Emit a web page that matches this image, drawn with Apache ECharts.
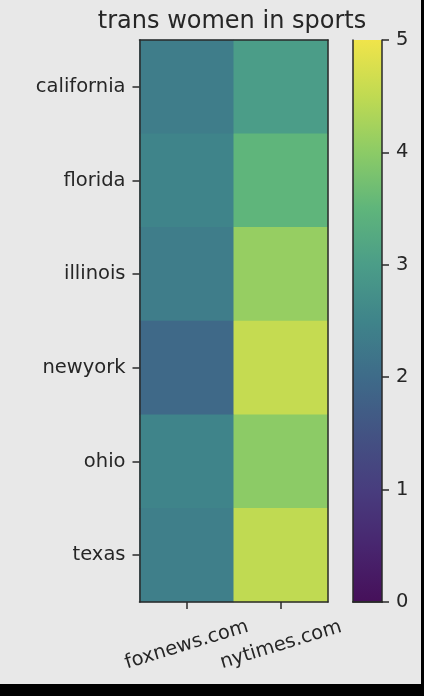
<!DOCTYPE html>
<html>
<head>
<meta charset="utf-8">
<script src="https://cdn.jsdelivr.net/npm/echarts@6/dist/echarts.min.js"></script>
<style>
  html, body { margin: 0; padding: 0; background: #000; }
  #chart { width: 421px; height: 684px; background: #e8e8e8; }
</style>
</head>
<body>
<div id="chart"></div>
<script>
const titleText = 'trans women in sports';
const sites = ['foxnews.com', 'nytimes.com'];
const states = ['california', 'florida', 'illinois', 'newyork', 'ohio', 'texas'];
const foxValues = [2.35, 2.5, 2.35, 1.95, 2.5, 2.4];
const nytValues = [3.0, 3.5, 4.1, 4.55, 4.0, 4.5];
const colorTicks = [0, 1, 2, 3, 4, 5];
// viridis as it appears in the (slightly washed-out) reference picture
const palette = ['#46105a', '#48266f', '#483d7e', '#435383', '#3e6b89', '#3f848a',
                 '#4b9d88', '#5fb57b', '#8ccb66', '#c0da52', '#f0e44a'];

const cells = [];
states.forEach((s, i) => {
  cells.push([0, i, foxValues[i]]);
  cells.push([1, i, nytValues[i]]);
});

const cmin = colorTicks[0], cmax = colorTicks[colorTicks.length - 1];
const font = 'DejaVu Sans';
const txt = '#262626';
const line = { show: true, lineStyle: { color: '#2a2a2a', width: 1.5 } };
const noLabel = { show: false };

const chart = echarts.init(document.getElementById('chart'));
chart.setOption({
  animation: false,
  backgroundColor: '#e8e8e8',
  title: {
    text: titleText, left: 227, top: 5, textAlign: 'center',
    textStyle: { fontFamily: font, fontSize: 24, fontWeight: 'normal', color: txt }
  },
  grid: [
    { left: 139.5, top: 40, width: 188.5, height: 562 },
    { left: 353, top: 40, width: 29, height: 562 }
  ],
  xAxis: [
    { type: 'category', gridIndex: 0, data: sites, position: 'bottom', z: 10,
      axisLine: line, axisTick: { show: true, length: 7, alignWithLabel: true, lineStyle: { color: '#2a2a2a', width: 1.5 } },
      axisLabel: { interval: 0, rotate: 17, align: 'center', verticalAlign: 'middle', margin: 43,
                   fontFamily: font, fontSize: 19.5, color: txt },
      splitLine: { show: false } },
    { type: 'category', gridIndex: 0, data: sites, position: 'top', z: 10,
      axisLine: line, axisTick: { show: false }, axisLabel: noLabel },
    { type: 'category', gridIndex: 1, data: ['cb'], position: 'bottom', z: 10,
      axisLine: line, axisTick: { show: false }, axisLabel: noLabel },
    { type: 'category', gridIndex: 1, data: ['cb'], position: 'top', z: 10,
      axisLine: line, axisTick: { show: false }, axisLabel: noLabel }
  ],
  yAxis: [
    { type: 'category', gridIndex: 0, data: states, inverse: true, position: 'left', z: 10,
      axisLine: line, axisTick: { show: true, length: 7, alignWithLabel: true, lineStyle: { color: '#2a2a2a', width: 1.5 } },
      axisLabel: { interval: 0, margin: 14, fontFamily: font, fontSize: 19.5, color: txt },
      splitLine: { show: false } },
    { type: 'category', gridIndex: 0, data: states, inverse: true, position: 'right', z: 10,
      axisLine: line, axisTick: { show: false }, axisLabel: noLabel },
    { type: 'value', gridIndex: 1, min: cmin, max: cmax, interval: 1, position: 'right', z: 10,
      axisLine: line, axisTick: { show: true, length: 7, lineStyle: { color: '#2a2a2a', width: 1.5 } },
      axisLabel: { margin: 14, fontFamily: font, fontSize: 19.5, color: txt },
      splitLine: { show: false } },
    { type: 'value', gridIndex: 1, min: cmin, max: cmax, position: 'left', z: 10,
      axisLine: line, axisTick: { show: false }, axisLabel: noLabel, splitLine: { show: false } }
  ],
  visualMap: {
    show: false, seriesIndex: 0, min: cmin, max: cmax, dimension: 2,
    inRange: { color: palette }
  },
  series: [
    { type: 'heatmap', xAxisIndex: 0, yAxisIndex: 0, data: cells,
      emphasis: { disabled: true } },
    { type: 'bar', xAxisIndex: 2, yAxisIndex: 2, data: [cmax], barWidth: '100%',
      itemStyle: {
        color: new echarts.graphic.LinearGradient(0, 1, 0, 0,
          palette.map((c, i) => ({ offset: i / (palette.length - 1), color: c })))
      } }
  ]
});
</script>
</body>
</html>
